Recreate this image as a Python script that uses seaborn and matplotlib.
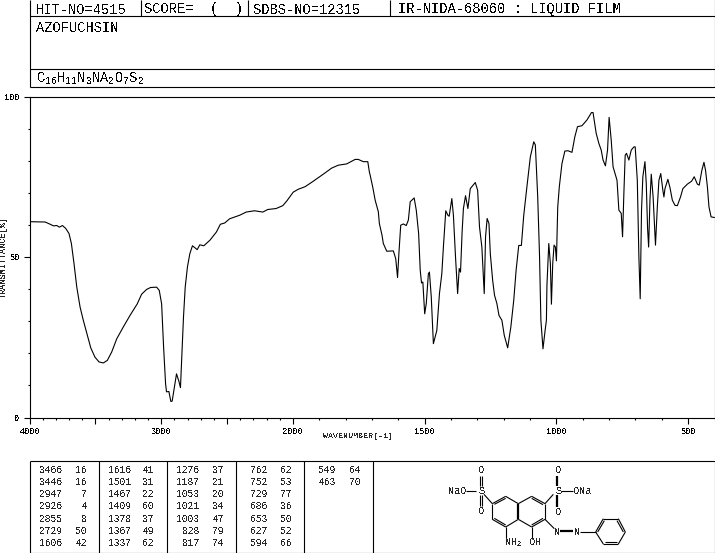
import numpy as np
import pandas as pd
import matplotlib
matplotlib.use("Agg")
import matplotlib.pyplot as plt
import seaborn as sns
from matplotlib.ticker import FixedLocator, FixedFormatter, NullFormatter

# =============================================================================
# DATA
# =============================================================================
wavenumber = [
    4000, 3881, 3843, 3818, 3793, 3773, 3750, 3725, 3700, 3682, 3662, 3641, 3616, 3591, 3561,
    3535, 3503, 3472, 3439, 3409, 3376, 3338, 3288, 3237, 3182, 3149, 3111, 3081, 3035, 3015,
    2997, 2982, 2967, 2960, 2942, 2927, 2917, 2902, 2884, 2866, 2854, 2841, 2831, 2818, 2801,
    2783, 2763, 2727, 2707, 2677, 2631, 2581, 2551, 2518, 2481, 2405, 2355, 2292, 2229, 2191,
    2128, 2077, 2046, 1999, 1980, 1954, 1923, 1885, 1853, 1828, 1796, 1764, 1752, 1733, 1716,
    1710, 1707, 1697, 1688, 1676, 1672, 1662, 1657, 1644, 1619, 1610, 1603, 1598, 1591, 1581,
    1570, 1562, 1555, 1540, 1532, 1523, 1517, 1512, 1507, 1500, 1494, 1486, 1482, 1475, 1467,
    1454, 1444, 1435, 1429, 1420, 1412, 1407, 1397, 1391, 1383, 1375, 1369, 1364, 1358, 1353,
    1345, 1336, 1327, 1308, 1299, 1292, 1283, 1274, 1269, 1263, 1256, 1251, 1242, 1235, 1226,
    1218, 1207, 1198, 1185, 1173, 1162, 1153, 1143, 1133, 1124, 1112, 1099, 1086, 1080, 1071,
    1064, 1059, 1051, 1043, 1038, 1036, 1029, 1023, 1019, 1014, 1009, 1004, 1000, 995, 989,
    979, 968, 956, 941, 930, 920, 903, 884, 867, 861, 849, 839, 830, 823, 814,
    806, 800, 792, 785, 770, 763, 754, 749, 744, 739, 734, 725, 716, 706, 701,
    693, 687, 682, 677, 672, 664, 659, 654, 650, 645, 640, 633, 624, 617, 611,
    604, 596, 592, 588, 577, 569, 560, 550, 541, 529, 520, 503, 487, 477, 465,
    458, 448, 440, 434, 427, 421, 413, 400,
]
transmittance = [
    61.0, 60.9, 60.2, 59.7, 59.8, 59.3, 59.8, 58.9, 57.3, 54.2, 47.9, 40.6, 34.4, 30.2, 25.6,
    21.7, 18.8, 17.3, 17.0, 17.8, 20.4, 24.5, 28.2, 31.8, 35.4, 38.4, 39.9, 40.5, 40.6, 39.6,
    35.4, 21.9, 10.5, 8.0, 8.1, 5.0, 5.1, 8.9, 13.6, 11.3, 9.3, 21.9, 31.3, 40.6, 46.9,
    51.0, 53.5, 52.3, 53.8, 53.5, 55.2, 57.8, 60.2, 60.6, 61.9, 63.0, 64.0, 64.4, 64.0, 64.8,
    65.1, 66.0, 67.5, 70.2, 71.1, 71.9, 73.6, 75.8, 77.7, 78.6, 79.0, 80.4, 80.4, 79.7, 79.7,
    76.5, 75.5, 71.7, 67.7, 64.1, 60.4, 56.8, 54.2, 51.8, 51.9, 49.5, 43.6, 51.0, 59.9, 60.3,
    59.8, 61.5, 67.2, 68.4, 64.6, 57.3, 45.9, 41.9, 42.2, 32.3, 35.5, 44.8, 45.3, 37.5, 23.0,
    27.1, 38.6, 44.8, 53.1, 64.4, 63.0, 62.7, 68.2, 63.0, 50.0, 38.6, 46.4, 45.3, 57.8, 65.1,
    69.1, 65.1, 71.3, 73.2, 70.8, 59.4, 53.1, 38.6, 56.3, 62.0, 60.4, 51.1, 42.7, 38.1, 35.5,
    31.8, 30.3, 25.6, 21.7, 28.2, 36.5, 45.9, 53.6, 53.6, 63.0, 71.9, 81.2, 85.9, 84.9, 68.7,
    50.0, 30.3, 21.4, 27.1, 30.3, 41.2, 54.2, 48.0, 35.3, 48.0, 53.7, 53.1, 48.8, 65.6, 71.9,
    79.1, 83.0, 83.1, 82.6, 87.5, 90.6, 90.9, 92.7, 95.0, 95.0, 88.5, 85.4, 83.3, 80.2, 78.4,
    83.3, 93.5, 86.4, 78.1, 73.9, 64.6, 63.6, 56.3, 69.8, 81.7, 82.3, 80.2, 83.3, 84.3, 84.3,
    73.9, 50.0, 37.0, 64.6, 75.0, 79.7, 72.9, 58.9, 53.1, 67.7, 75.8, 68.7, 53.7, 65.6, 73.9,
    76.0, 70.8, 68.7, 71.3, 74.2, 71.6, 67.7, 66.1, 66.0, 68.7, 71.3, 72.7, 73.6, 75.0, 72.7,
    72.4, 77.0, 79.5, 77.0, 71.9, 65.6, 62.5, 62.3,
]

x_major = [4000, 3500, 3000, 2500, 2000, 1500, 1000, 500]
x_major_labels = ["4000", "", "3000", "", "2000", "1500", "1000", "500"]
x_minor = [w for w in range(4000, 399, -100) if w % 500 != 0]
y_major = [0, 50, 100]
y_minor = [10, 20, 30, 40, 60, 70, 80, 90]

peak_wavenumbers = [
    [3466, 3446, 2947, 2926, 2855, 2729, 1606],
    [1616, 1501, 1467, 1409, 1378, 1367, 1337],
    [1276, 1187, 1053, 1021, 1003, 828, 817],
    [762, 752, 729, 686, 653, 627, 594],
    [549, 463],
]
peak_values = [
    [16, 16, 7, 4, 8, 50, 42],
    [41, 31, 22, 60, 37, 49, 62],
    [37, 21, 20, 34, 47, 79, 74],
    [62, 53, 77, 36, 50, 52, 66],
    [64, 70],
]

# molecule bonds, in pixels of the zoomed drawing (width of line last)
bonds = [
    (78, 87, 108, 87, 1), (120, 42, 120, 72, 1), (127, 42, 127, 72, 1),
    (120, 100, 120, 132, 1), (127, 100, 127, 132, 1), (132, 97, 157, 125, 1),
    (157, 125, 197, 103, 1), (163, 127, 197, 109, 1), (197, 103, 235, 125, 1),
    (235, 125, 235, 172, 2), (235, 172, 197, 195, 1), (197, 195, 157, 172, 1),
    (197, 189, 163, 169, 1), (157, 172, 157, 125, 1), (235, 125, 275, 103, 1),
    (275, 103, 315, 125, 1), (275, 109, 309, 128, 1), (315, 125, 315, 172, 1),
    (315, 172, 275, 195, 1), (309, 169, 275, 189, 1), (275, 195, 235, 172, 1),
    (315, 125, 340, 97, 1), (350, 42, 350, 72, 2), (350, 100, 350, 135, 2),
    (362, 87, 400, 87, 1), (315, 172, 343, 200, 1), (360, 208, 400, 208, 2),
    (420, 210, 467, 210, 1), (467, 210, 490, 170, 1), (473, 210, 493, 176, 1),
    (490, 170, 535, 170, 1), (535, 170, 556, 210, 1), (531, 176, 550, 210, 1),
    (556, 210, 535, 246, 1), (535, 246, 490, 246, 1), (531, 241, 494, 241, 1),
    (490, 246, 467, 210, 1), (197, 195, 197, 230, 1), (275, 195, 275, 230, 1),
]
atoms = [
    ("NaO", 52, 87), ("S", 124, 87), ("O", 124, 25), ("O", 124, 148),
    ("O", 355, 25), ("S", 355, 87), ("O", 355, 150), ("ONa", 428, 87),
    ("N", 352, 210), ("N", 412, 210), ("OH", 287, 241),
]

W, H = 715, 553
LEFT, RIGHT, TOP, BOTTOM = 29.5, 714.5, 96.5, 417.5
FONT = "Liberation Mono"


def forward(x):
    # the chart doubles its scale below 2000
    x = np.asarray(x, dtype=float)
    return np.where(x <= 2000, x, 2000 + (x - 2000) * 0.5)


def inverse(u):
    u = np.asarray(u, dtype=float)
    return np.where(u <= 2000, u, 2000 + (u - 2000) * 2)


# =============================================================================
# SPECTRUM
# =============================================================================
sns.set_style("white")
plt.rcParams["font.family"] = [FONT, "DejaVu Sans"]
plt.rcParams["mathtext.default"] = "regular"
plt.rcParams["text.antialiased"] = False

fig = plt.figure(figsize=(W / 100, H / 100), dpi=100)
ax = fig.add_axes([LEFT / W, 1 - BOTTOM / H, (RIGHT - LEFT) / W, (BOTTOM - TOP) / H])

df = pd.DataFrame({"wavenumber": wavenumber, "transmittance": transmittance})
sns.lineplot(data=df, x="wavenumber", y="transmittance", sort=False, estimator=None,
             color="black", linewidth=0.8, ax=ax)

ax.set_xscale("function", functions=(forward, inverse))
ax.set_xlim(4000, 400)
ax.set_ylim(0, 100)
ax.set_xlabel("")
ax.set_ylabel("")

ax.xaxis.set_major_locator(FixedLocator(x_major))
ax.xaxis.set_major_formatter(FixedFormatter(x_major_labels))
ax.xaxis.set_minor_locator(FixedLocator(x_minor))
ax.xaxis.set_minor_formatter(NullFormatter())
ax.yaxis.set_major_locator(FixedLocator(y_major))
ax.yaxis.set_minor_locator(FixedLocator(y_minor))
ax.tick_params(which="major", length=4, width=0.8, direction="out", bottom=True, left=True,
               labelsize=6.2, pad=3, color="black", labelcolor="black")
ax.tick_params(which="minor", length=1.5, width=0.8, direction="out", bottom=True, left=True,
               color="black")

for s in ax.spines.values():
    s.set_visible(True)
    s.set_color("black")
    s.set_linewidth(0.8)

# =============================================================================
# HEADER, TABLE AND MOLECULE (overlay in pixel coordinates)
# =============================================================================
ov = fig.add_axes([0, 0, 1, 1], zorder=5)
ov.set_xlim(0, W)
ov.set_ylim(H, 0)
ov.axis("off")
ov.patch.set_alpha(0)


def line(x0, y0, x1, y1, lw=0.8):
    ov.plot([x0, x1], [y0, y1], color="black", lw=lw, solid_capstyle="butt")


for x in [LEFT, RIGHT]:
    line(x, 0, x, 87)
for x in [141, 248, 390]:
    line(x, 0, x, 16)
for y in [16, 69, 87]:
    line(LEFT, y, RIGHT, y)

HEAD = {"fontsize": 9.9, "va": "center", "ha": "left", "color": "black"}
ov.text(35.5, 9.5, "HIT-NO=4515", **HEAD)
ov.text(144.5, 9.5, "SCORE=  (  )", **HEAD)
ov.text(253.5, 9.5, "SDBS-NO=12315", **HEAD)
ov.text(397.5, 9.5, "IR-NIDA-68060 : LIQUID FILM", **HEAD)
ov.text(35.5, 27.5, "AZOFUCHSIN", **HEAD)
ov.text(35.5, 79, r"$C_{16}H_{11}N_{3}NA_{2}O_{7}S_{2}$", **HEAD)

ov.text(3.5, 257, "TRANSMITTANCE[%]", rotation=90, fontsize=6.2,
        ha="center", va="center")
ov.text(358, 436.5, "WAVENUMBER[-1]", fontsize=6.0, ha="center", va="center")

# peak table
line(LEFT, 460.5, RIGHT, 460.5)
line(LEFT, 552.5, RIGHT, 552.5)
for x in [LEFT, 98.5, 166.5, 235.5, 303.5, 372.5, RIGHT]:
    line(x, 460.5, x, 552.5)

col_wave = [62.5, 131, 199.5, 267.5, 336]
col_val = [87, 154, 224, 292, 361]
row_y = [469.7, 481.9, 494.2, 506.4, 518.7, 531, 543.3]
for c in range(5):
    for r, (w, v) in enumerate(zip(peak_wavenumbers[c], peak_values[c])):
        ov.text(col_wave[c], row_y[r], str(w), fontsize=6.9, ha="right", va="center")
        ov.text(col_val[c], row_y[r], str(v), fontsize=6.9, ha="right", va="center")


# molecule
def mx(z):
    return 440 + z / 3


def my(z):
    return 462 + z / 3


for x0, y0, x1, y1, w in bonds:
    line(mx(x0), my(y0), mx(x1), my(y1), lw=0.8 * w)
for name, zx, zy in atoms:
    ov.text(mx(zx), my(zy), name, fontsize=7.4, ha="center", va="center")
ov.text(mx(218), my(243), r"$NH_{2}$", fontsize=7.4, ha="center", va="center")

fig.savefig("out.png", dpi=100)
